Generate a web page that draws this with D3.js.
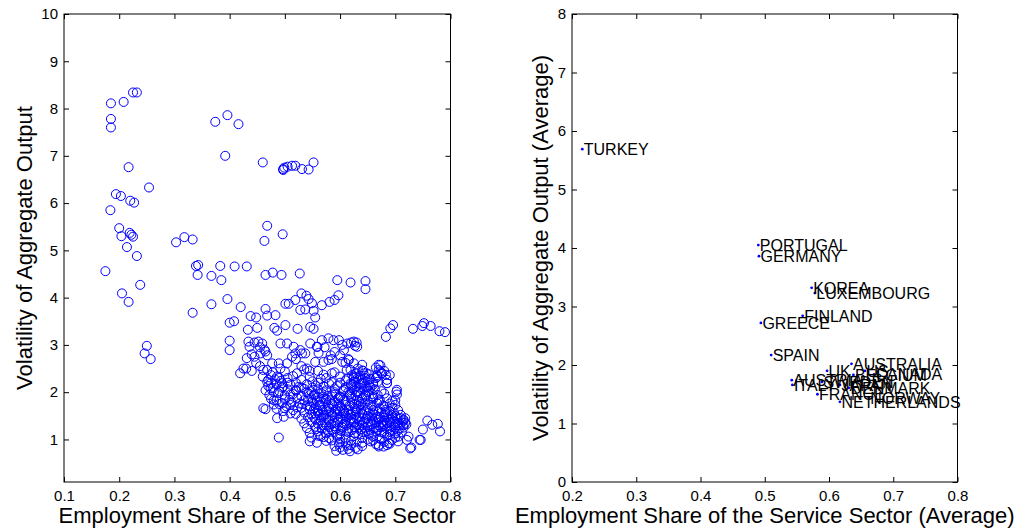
<!DOCTYPE html>
<html>
<head>
<meta charset="utf-8">
<script src="https://cdn.jsdelivr.net/npm/d3@7"></script>
<style>
  body { margin: 0; background: #fff; }
  svg { display: block; font-family: "Liberation Sans", Arial, Helvetica, sans-serif; }
</style>
</head>
<body>
<div class="canva"></div>
<script>
// panel izquierdo: pares [empleo en servicios, volatilidad] por pais y ano
const yearlyPoints = [
  [0.185,8.11],[0.208,8.14],[0.225,8.34],[0.232,8.34],[0.185,7.78],[0.185,7.60],[0.217,6.76],[0.254,6.33],
  [0.194,6.19],[0.203,6.15],[0.220,6.05],[0.227,6.01],[0.184,5.85],[0.200,5.47],[0.204,5.30],[0.219,5.37],
  [0.222,5.33],[0.225,5.29],[0.214,5.07],[0.232,4.88],
  [0.374,7.72],[0.396,7.86],[0.416,7.67],[0.392,7.00],[0.460,6.86],
  [0.497,6.72],[0.497,6.70],[0.499,6.75],[0.505,6.77],[0.513,6.79],[0.519,6.79],[0.531,6.72],[0.543,6.71],[0.552,6.86],
  [0.303,5.17],[0.318,5.28],[0.333,5.23],[0.463,5.20],[0.468,5.52],[0.496,5.34],
  [0.175,4.56],[0.205,4.09],[0.217,3.91],[0.238,4.27],[0.246,2.82],[0.250,2.98],[0.257,2.70],
  [0.333,3.68],[0.339,4.67],[0.343,4.69],[0.342,4.48],[0.367,4.46],[0.383,4.67],[0.385,4.37],[0.367,3.86],
  [0.409,4.66],[0.431,4.66],[0.396,3.97],
  [0.400,3.47],[0.408,3.50],[0.400,3.09],[0.400,2.89],[0.420,3.80],[0.433,3.32],[0.438,3.61],[0.448,3.58],[0.450,3.36],
  [0.465,4.48],[0.478,4.53],[0.494,4.48],[0.527,4.51],[0.465,3.76],[0.468,3.62],[0.483,3.63],[0.481,3.36],[0.486,3.30],
  [0.501,3.87],[0.507,3.87],[0.519,3.95],[0.501,3.42],[0.523,3.34],[0.530,4.09],[0.539,4.04],[0.543,3.97],
  [0.528,3.74],[0.537,3.75],[0.549,3.88],[0.552,3.72],[0.555,3.58],[0.546,3.38],[0.552,3.34],
  [0.567,3.84],[0.581,3.91],[0.590,3.95],[0.597,4.05],[0.595,4.37],[0.619,4.32],[0.646,4.35],[0.646,4.18],
  [0.683,3.17],[0.691,3.35],[0.696,3.42],[0.732,3.34],[0.749,3.40],[0.752,3.46],[0.764,3.40],[0.780,3.29],[0.790,3.27],
  [0.750,1.21],[0.758,1.40],[0.767,1.31],[0.777,1.33],[0.781,1.17],[0.744,0.99],[0.729,0.83],[0.721,0.99],
  [0.489,1.04],[0.685,2.19],[0.702,2.01],[0.703,1.95],
  // banda superior
  [0.434,3.07],[0.452,3.07],[0.459,3.03],[0.436,2.96],[0.431,2.72],[0.425,2.50],[0.419,2.40],[0.430,2.50],
  [0.456,2.82],[0.465,2.86],[0.461,2.47],[0.477,2.61],[0.489,2.61],[0.492,2.50],[0.504,2.61],[0.513,2.75],
  [0.519,2.82],[0.531,2.82],[0.537,2.82],[0.492,3.03],[0.504,3.03],[0.516,2.96],[0.528,2.89],
  [0.546,3.03],[0.558,2.96],[0.567,3.10],[0.579,3.14],[0.588,3.10],[0.604,3.00],[0.613,3.03],[0.625,3.07],[0.631,2.96],
  [0.555,2.64],[0.570,2.64],[0.579,2.68],[0.604,2.64],[0.625,2.61],
  [0.461,1.66],[0.465,1.64],[0.486,1.45],[0.498,1.48],[0.510,1.55],
  [0.474,2.08],[0.480,1.83],[0.470,2.26],[0.486,2.33],[0.495,2.19],
  [0.620,3.05],[0.627,2.98],[0.607,2.89],[0.616,2.68],[0.630,3.05],[0.572,2.95],[0.583,2.78],[0.585,2.70],
  [0.561,2.83],[0.559,2.96],[0.520,2.70],[0.530,2.55],[0.540,2.50],[0.545,2.45],
  [0.440,2.80],[0.445,2.75],[0.448,2.62],[0.455,2.55],[0.440,2.45],[0.445,3.05],[0.455,2.95],[0.463,2.90],[0.468,2.78],
  [0.598,3.10],[0.590,2.85],[0.600,2.78],[0.615,2.70],[0.610,2.62],[0.619,2.47],[0.625,2.33],[0.613,2.29],[0.619,2.19],
  [0.685,2.19],[0.673,2.57],[0.670,2.47],[0.667,2.36],[0.676,2.40],[0.703,2.05],[0.700,1.83],
  [0.718,1.45],[0.715,1.30],[0.724,1.06],[0.727,0.81],[0.746,0.99],[0.706,1.06],[0.694,0.99],[0.679,0.85],[0.670,0.88],[0.688,0.92],
  // nucleo denso
  [0.468,2.47],[0.478,2.42],[0.500,2.44],[0.522,2.40],[0.535,2.48],[0.560,2.45],[0.590,2.42],[0.612,2.47],
  [0.628,2.40],[0.640,2.46],[0.652,2.38],[0.665,2.52],[0.673,2.44],[0.683,2.37],[0.670,2.58],
  [0.460,2.33],[0.475,2.36],[0.490,2.30],[0.515,2.34],[0.545,2.32],[0.570,2.37],[0.600,2.33],[0.622,2.36],
  [0.632,2.30],[0.645,2.35],[0.655,2.28],[0.668,2.33],[0.690,2.36],[0.640,2.58],[0.632,2.50],
  [0.468,2.22],[0.482,2.27],[0.493,2.24],[0.505,2.20],[0.530,2.26],[0.550,2.23],[0.565,2.28],[0.585,2.21],
  [0.610,2.25],[0.625,2.22],[0.635,2.27],[0.642,2.20],[0.650,2.25],[0.668,2.22],[0.685,2.26],
  [0.470,2.13],[0.485,2.17],[0.497,2.12],[0.510,2.16],[0.525,2.11],[0.540,2.17],[0.556,2.14],[0.570,2.12],
  [0.580,2.18],[0.595,2.13],[0.620,2.16],[0.630,2.12],[0.638,2.18],[0.648,2.13],[0.660,2.16],
  [0.465,2.04],[0.478,2.08],[0.490,2.02],[0.505,2.06],[0.520,2.03],[0.535,2.07],[0.548,2.02],[0.560,2.06],
  [0.575,2.04],[0.590,2.08],[0.605,2.02],[0.625,2.06],[0.633,2.01],[0.643,2.07],[0.652,2.03],[0.663,2.06],[0.675,2.02],
  [0.472,1.94],[0.488,1.98],[0.500,1.93],[0.515,1.96],[0.530,1.92],[0.543,1.97],[0.553,1.93],[0.566,1.98],
  [0.578,1.92],[0.592,1.96],[0.600,1.91],[0.618,1.97],[0.628,1.93],[0.637,1.98],[0.647,1.92],[0.658,1.96],
  [0.668,1.94],[0.680,1.97],
  [0.475,1.86],[0.485,1.82],[0.508,1.84],[0.522,1.88],[0.535,1.83],[0.548,1.87],[0.558,1.82],[0.570,1.86],
  [0.582,1.83],[0.596,1.87],[0.607,1.82],[0.620,1.86],[0.630,1.83],[0.640,1.88],[0.650,1.82],[0.660,1.86],
  [0.672,1.83],[0.685,1.87],[0.695,1.82],
  [0.480,1.74],[0.495,1.77],[0.510,1.73],[0.527,1.76],[0.540,1.72],[0.552,1.77],[0.563,1.73],[0.575,1.78],
  [0.587,1.72],[0.598,1.76],[0.610,1.73],[0.622,1.77],[0.634,1.72],[0.645,1.76],[0.655,1.73],[0.667,1.77],
  [0.678,1.72],[0.690,1.76],[0.700,1.73],
  [0.500,1.66],[0.515,1.62],[0.530,1.67],[0.545,1.63],[0.556,1.68],[0.568,1.62],[0.580,1.66],[0.592,1.63],
  [0.603,1.67],[0.615,1.62],[0.627,1.66],[0.638,1.63],[0.650,1.67],[0.660,1.62],[0.672,1.66],[0.683,1.63],
  [0.695,1.67],[0.705,1.62],
  [0.520,1.54],[0.535,1.57],[0.548,1.53],[0.560,1.56],[0.572,1.52],[0.584,1.57],[0.595,1.53],[0.606,1.56],
  [0.618,1.52],[0.630,1.57],[0.641,1.53],[0.652,1.56],[0.664,1.52],[0.675,1.57],[0.687,1.53],[0.698,1.56],[0.710,1.52],
  [0.530,1.44],[0.542,1.47],[0.555,1.43],[0.566,1.46],[0.578,1.42],[0.590,1.47],[0.601,1.43],[0.612,1.46],
  [0.624,1.42],[0.635,1.47],[0.647,1.43],[0.658,1.46],[0.670,1.42],[0.680,1.47],[0.692,1.43],[0.704,1.46],[0.715,1.42],
  [0.535,1.34],[0.548,1.37],[0.560,1.33],[0.572,1.36],[0.584,1.32],[0.596,1.37],[0.607,1.33],[0.620,1.36],
  [0.631,1.32],[0.643,1.37],[0.655,1.33],[0.666,1.36],[0.678,1.32],[0.690,1.37],[0.700,1.33],[0.712,1.36],[0.720,1.32],
  [0.540,1.24],[0.555,1.27],[0.567,1.23],[0.580,1.26],[0.592,1.22],[0.603,1.27],[0.615,1.23],[0.627,1.26],
  [0.638,1.22],[0.650,1.27],[0.661,1.23],[0.673,1.26],[0.685,1.22],[0.697,1.27],[0.708,1.23],
  [0.545,1.14],[0.560,1.17],[0.574,1.13],[0.588,1.16],[0.600,1.12],[0.612,1.17],[0.626,1.13],[0.640,1.16],
  [0.652,1.12],[0.665,1.17],[0.680,1.13],[0.690,1.16],
  [0.548,1.04],[0.565,1.07],[0.580,1.03],[0.595,1.06],[0.610,1.02],[0.625,1.07],[0.640,1.03],[0.660,1.06],
  [0.672,1.02],[0.685,1.07],[0.700,1.04],
  [0.545,0.96],[0.558,0.93],[0.575,0.97],[0.600,0.94],[0.620,0.97],[0.640,0.93],[0.655,0.96],[0.665,0.90],
  [0.680,0.95],[0.690,0.91],[0.705,0.96],
  [0.590,0.86],[0.600,0.83],[0.613,0.87],[0.628,0.82],[0.640,0.86],[0.670,0.85],[0.685,0.88],
  [0.593,0.76],[0.605,0.78],[0.618,0.75],[0.632,0.79],
  // segunda pasada del nucleo
  [0.560,1.60],[0.570,1.50],[0.580,1.40],[0.590,1.58],[0.600,1.48],[0.610,1.38],[0.620,1.55],[0.630,1.45],
  [0.640,1.30],[0.650,1.50],[0.660,1.40],[0.670,1.30],[0.680,1.52],[0.600,1.70],[0.610,1.80],[0.620,1.90],
  [0.630,2.00],[0.635,2.10],[0.640,2.20],[0.645,2.30],[0.630,2.40],[0.625,2.30],[0.550,1.80],[0.560,1.90],
  [0.570,2.00],[0.580,1.70],[0.590,1.80],[0.545,1.70],[0.555,1.55],[0.565,1.40],[0.575,1.30],[0.585,1.20],
  [0.595,1.10],[0.605,1.25],[0.615,1.15],[0.625,1.35],[0.635,1.25],[0.645,1.15],[0.655,1.20],[0.665,1.25],
  [0.675,1.15],[0.685,1.35],[0.695,1.45],[0.705,1.35],[0.715,1.25],[0.700,1.50],[0.690,1.60],[0.680,1.70],
  [0.670,1.80],[0.660,1.90],[0.650,2.00],[0.655,2.10],[0.660,2.20],[0.665,2.30],[0.675,2.40],[0.680,2.45],
  [0.520,2.05],[0.510,1.95],[0.500,1.85],[0.490,1.75],[0.485,1.65],[0.495,2.10],[0.480,2.00],[0.475,2.20],
  [0.505,2.30],[0.520,2.20],[0.530,2.10],[0.540,2.00],[0.550,2.10],[0.560,2.20],[0.575,2.30],[0.585,2.40],
  [0.600,2.20],[0.610,2.10],[0.590,2.00],[0.600,1.90],[0.570,1.90],[0.580,1.60],[0.590,1.35],[0.600,1.60],
  [0.610,1.50],[0.620,1.45],[0.630,1.65],[0.640,1.55],[0.650,1.35],[0.660,1.55],[0.670,1.45],[0.680,1.40],
  [0.690,1.30],[0.700,1.25],[0.710,1.45],[0.715,1.40],
  // tercera pasada (zona mas densa)
  [0.552,1.48],[0.563,1.52],[0.575,1.45],[0.586,1.50],[0.597,1.42],[0.608,1.55],[0.618,1.40],[0.628,1.52],
  [0.637,1.38],[0.648,1.45],[0.658,1.32],[0.668,1.48],[0.678,1.36],[0.688,1.42],[0.698,1.38],[0.708,1.30],
  [0.557,1.22],[0.568,1.30],[0.578,1.18],[0.590,1.28],[0.602,1.18],[0.612,1.30],[0.622,1.20],[0.633,1.12],
  [0.645,1.25],[0.657,1.10],[0.668,1.20],[0.678,1.28],[0.692,1.20],[0.704,1.18],
  [0.553,1.65],[0.563,1.70],[0.574,1.62],[0.585,1.75],[0.596,1.65],[0.607,1.60],[0.617,1.72],[0.628,1.60],
  [0.638,1.75],[0.648,1.62],[0.658,1.70],[0.670,1.60],[0.682,1.58],[0.693,1.52],
  [0.615,2.00],[0.622,2.10],[0.628,2.20],[0.636,2.35],[0.642,2.45],[0.648,2.40],[0.652,2.15],[0.646,1.95],
  [0.640,1.85],[0.634,1.80],[0.626,1.75],[0.617,1.95],[0.607,2.05],[0.597,1.88],[0.586,1.95],[0.575,1.85],
  [0.564,1.80],[0.553,1.95],[0.542,1.85],[0.532,1.75],[0.523,1.68],[0.512,1.78],[0.503,1.70],[0.497,1.60],
  [0.600,1.02],[0.610,0.92],[0.620,0.88],[0.630,0.95],[0.615,0.80],[0.598,0.90],[0.585,0.98],[0.570,1.05],
  [0.560,1.08],[0.650,1.00],[0.660,0.98],[0.675,1.00],[0.690,1.10],[0.700,1.12],[0.712,1.15],[0.718,1.35]
];

// panel derecho: promedios por pais
const countries = ["TURKEY","PORTUGAL","GERMANY","KOREA","LUXEMBOURG","FINLAND","GREECE","SPAIN",
  "AUSTRALIA","UK","US","BELGIUM","CANADA","AUSTRIA","ITALY","SWEDEN","JAPAN","DENMARK","FRANCE","NORWAY","NETHERLANDS"];
const avgShare = [0.216,0.490,0.491,0.573,0.578,0.559,0.494,0.510,
  0.635,0.597,0.656,0.638,0.670,0.542,0.543,0.589,0.617,0.631,0.582,0.662,0.617];
const avgVol = [5.69,4.05,3.86,3.32,3.23,2.84,2.72,2.17,
  2.02,1.90,1.90,1.83,1.84,1.74,1.66,1.71,1.66,1.61,1.50,1.44,1.37];

const leftXTicks = [0.1,0.2,0.3,0.4,0.5,0.6,0.7,0.8];
const leftYTicks = [1,2,3,4,5,6,7,8,9,10];
const rightXTicks = [0.2,0.3,0.4,0.5,0.6,0.7,0.8];
const rightYTicks = [0,1,2,3,4,5,6,7,8];

const svg = d3.select(".canva").append("svg").attr("width", 1030).attr("height", 529);

function drawAxes(x, y, xTicks, yTicks) {
  const [x0, x1] = x.range();
  const [y0, y1] = y.range();
  const fmt = d => String(d);
  const g = svg.append("g");

  g.append("g").attr("transform", `translate(0,${y0})`)
    .call(d3.axisBottom(x).tickValues(xTicks).tickSize(-5).tickPadding(8).tickFormat(fmt));
  g.append("g").attr("transform", `translate(0,${y1})`)
    .call(d3.axisTop(x).tickValues(xTicks).tickSize(-5).tickFormat(""));
  g.append("g").attr("transform", `translate(${x0},0)`)
    .call(d3.axisLeft(y).tickValues(yTicks).tickSize(-5).tickPadding(6).tickFormat(fmt));
  g.append("g").attr("transform", `translate(${x1},0)`)
    .call(d3.axisRight(y).tickValues(yTicks).tickSize(-5).tickFormat(""));

  // quitar los estilos por defecto del eje de d3
  g.selectAll("g").attr("font-size", null).attr("font-family", null);
  g.selectAll(".domain").remove();
  g.selectAll(".tick line").attr("stroke", "#000");
  g.selectAll(".tick text").attr("fill", "#000").style("font-size", "15px");

  g.append("rect")
    .attr("x", x0).attr("y", y1)
    .attr("width", x1 - x0).attr("height", y0 - y1)
    .attr("fill", "none").attr("stroke", "#000").attr("stroke-width", 1);
}

function axisTitles(x, y, xText, yText, yBase) {
  const [x0, x1] = x.range();
  const [y0, y1] = y.range();
  svg.append("text")
    .attr("x", (x0 + x1) / 2).attr("y", 523)
    .attr("text-anchor", "middle").style("font-size", "22px")
    .text(xText);
  svg.append("text")
    .attr("transform", `translate(${yBase},${(y0 + y1) / 2}) rotate(-90)`)
    .attr("text-anchor", "middle").style("font-size", "22px")
    .text(yText);
}

// ---- panel izquierdo
const xL = d3.scaleLinear().domain([0.1, 0.8]).range([64, 450.5]);
const yL = d3.scaleLinear().domain([0.1, 10]).range([482, 14]);

svg.append("g").selectAll("circle")
  .data(yearlyPoints)
  .enter()
  .append("circle")
  .attr("cx", d => xL(d[0]))
  .attr("cy", d => yL(d[1]))
  .attr("r", 4.5)
  .attr("fill", "none")
  .attr("stroke", "#0000ff")
  .attr("stroke-width", 1);

drawAxes(xL, yL, leftXTicks, leftYTicks);
axisTitles(xL, yL, "Employment Share of the Service Sector", "Volatility of Aggregate Output", 32);

// ---- panel derecho
const xR = d3.scaleLinear().domain([0.2, 0.8]).range([572, 957.5]);
const yR = d3.scaleLinear().domain([0, 8]).range([482, 14]);

const avg = countries.map((c, i) => ({ name: c, share: avgShare[i], vol: avgVol[i] }));

svg.append("g").selectAll("circle")
  .data(avg)
  .enter()
  .append("circle")
  .attr("cx", d => xR(d.share))
  .attr("cy", d => yR(d.vol))
  .attr("r", 1.4)
  .attr("fill", "#0000ff");

svg.append("g").selectAll("text")
  .data(avg)
  .enter()
  .append("text")
  .attr("x", d => xR(d.share) + 1.5)
  .attr("y", d => yR(d.vol))
  .attr("dy", "0.36em")
  .style("font-size", "16px")
  .text(d => d.name);

drawAxes(xR, yR, rightXTicks, rightYTicks);
axisTitles(xR, yR, "Employment Share of the Service Sector (Average)",
  "Volatility of Aggregate Output (Average)", 548);
</script>
</body>
</html>
